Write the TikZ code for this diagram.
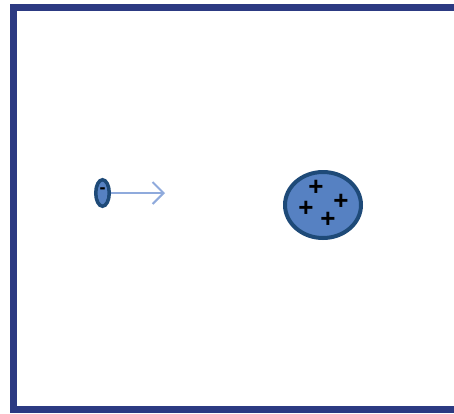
\documentclass[tikz,border=0pt]{standalone}
\usepackage{fontspec}
\newfontfamily\signfont{Liberation Sans}
\usetikzlibrary{arrows.meta,shapes.geometric}
\definecolor{framecol}{RGB}{44,58,130}
\definecolor{chargeedge}{RGB}{30,74,120}
\definecolor{chargefill}{RGB}{86,129,194}
\definecolor{pathcol}{RGB}{143,170,220}
\tikzset{
  boxframe/.style={draw=framecol, line width=7pt},
  electron/.style={ellipse, draw=chargeedge, fill=chargefill, line width=3.5pt, minimum width=13.5pt, minimum height=26.5pt, inner sep=0pt},
  nucleus/.style={ellipse, draw=chargeedge, fill=chargefill, line width=4pt, minimum width=76pt, minimum height=66pt, inner sep=0pt},
  plussign/.style={font=\signfont\bfseries\fontsize{26}{26}\selectfont, inner sep=0pt},
  minussign/.style={font=\signfont\bfseries\fontsize{18}{18}\selectfont, inner sep=0pt},
  motion/.style={-{Straight Barb[length=11pt,width=22pt]}, draw=pathcol, line width=2pt}
}

\begin{document}
\begin{tikzpicture}[x=1pt, y=-1pt]
  \useasboundingbox (0,0) rectangle (454,413);
  \draw[boxframe] (454,7.5) -- (13.5,7.5) -- (13.5,409.5) -- (454,409.5);

  \node[electron] (e) at (102.5,193) {};
  \node[minussign] (em) at (102.5,190.5) {-};
  \coordinate (eend) at (165,193);
  \draw[motion] (e.east) -- (eend);

  \node[nucleus] (n) at (323,205) {};
  \node[plussign] (p1) at (316,188) {+};
  \node[plussign] (p2) at (306,209) {+};
  \node[plussign] (p3) at (341,202) {+};
  \node[plussign] (p4) at (328,220) {+};
\end{tikzpicture}
\end{document}
